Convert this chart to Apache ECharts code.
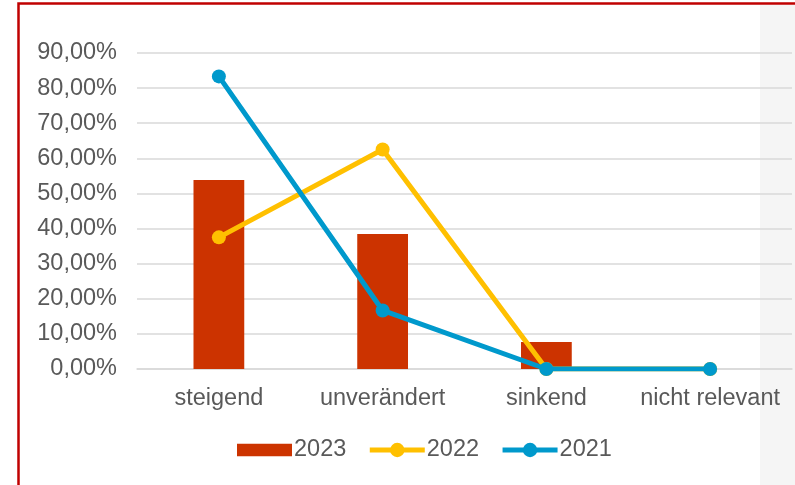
<!DOCTYPE html>
<html>
<head>
<meta charset="utf-8">
<script src="https://cdn.jsdelivr.net/npm/echarts@6/dist/echarts.min.js"></script>
<style>
  html, body { margin: 0; padding: 0; background: #ffffff; }
  #chart { width: 795px; height: 485px; }
</style>
</head>
<body>
<div id="chart"></div>
<script>
// Kategorien und Anteile je Jahr
const categories = ['steigend', 'unverändert', 'sinkend', 'nicht relevant'];
const values2023 = [53.85, 38.46, 7.69, 0];
const values2022 = [37.5, 62.5, 0, 0];
const values2021 = [83.33, 16.67, 0, 0];
const yTicks = { min: 0, max: 90, interval: 10 };

const fontFamily = '"Liberation Sans", Arial, sans-serif';
const fontSize = 23.5;
const textColor = '#595959';
const gridColor = '#d9d9d9';
const lineWidth = 5;

const chart = echarts.init(document.getElementById('chart'), null, { renderer: 'canvas' });

const fmt = v => v.toFixed(2).replace('.', ',') + '%';

chart.setOption({
  animation: false,
  backgroundColor: '#ffffff',
  graphic: [
    // grauer Streifen am rechten Rand
    { type: 'rect', z: -10, shape: { x: 760, y: 5, width: 40, height: 490 }, style: { fill: '#f5f5f5' } },
    // roter Rahmen oben und links
    { type: 'rect', z: -5, shape: { x: 18.5, y: 3.5, width: 800, height: 500 },
      style: { fill: 'none', stroke: '#c00000', lineWidth: 2.5 } }
  ],
  grid: { left: 137, right: 3, top: 53, bottom: 116, containLabel: false },
  legend: {
    top: 433,
    left: 232,
    itemGap: 21,
    itemWidth: 55,
    itemHeight: 18,
    textStyle: { color: textColor, fontSize: fontSize, fontFamily: fontFamily, padding: [0, 0, 0, -3] },
    data: [
      { name: '2023', icon: 'path://M0,0h52v12h-52z' },
      { name: '2022', lineStyle: { width: lineWidth } },
      { name: '2021', lineStyle: { width: lineWidth } }
    ]
  },
  xAxis: {
    type: 'category',
    data: categories,
    axisLine: { show: true, lineStyle: { color: gridColor, width: 1.5 } },
    axisTick: { show: false },
    axisLabel: { color: textColor, fontSize: fontSize, fontFamily: fontFamily, margin: 18, interval: 0 }
  },
  yAxis: {
    type: 'value',
    min: yTicks.min,
    max: yTicks.max,
    interval: yTicks.interval,
    axisLine: { show: false },
    axisTick: { show: false },
    splitLine: { lineStyle: { color: gridColor, width: 1.5 } },
    axisLabel: { color: textColor, fontSize: fontSize, fontFamily: fontFamily, margin: 20, formatter: fmt }
  },
  series: [
    {
      name: '2023',
      type: 'bar',
      data: values2023,
      barWidth: '31%',
      itemStyle: { color: '#cc3300' },
      z: 2
    },
    {
      name: '2022',
      type: 'line',
      data: values2022,
      symbol: 'circle',
      symbolSize: 14,
      lineStyle: { color: '#ffc000', width: lineWidth },
      itemStyle: { color: '#ffc000' },
      z: 3
    },
    {
      name: '2021',
      type: 'line',
      data: values2021,
      symbol: 'circle',
      symbolSize: 14,
      lineStyle: { color: '#0099cc', width: lineWidth },
      itemStyle: { color: '#0099cc' },
      z: 4
    }
  ]
});
</script>
</body>
</html>
